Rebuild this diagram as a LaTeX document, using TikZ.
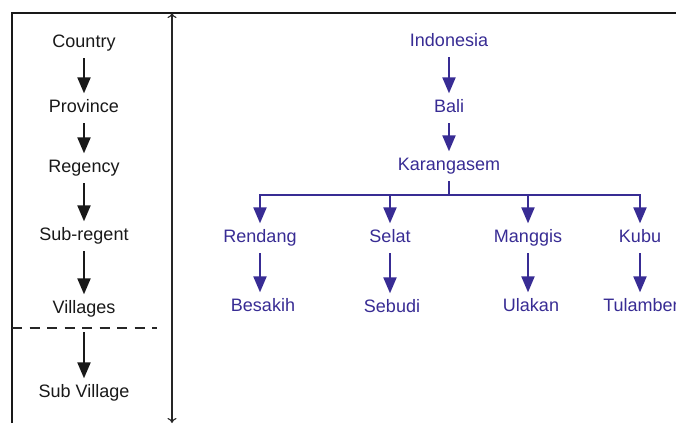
\documentclass[tikz,border=0pt]{standalone}
\usepackage{fontspec}
\setmainfont{Liberation Sans}
\usetikzlibrary{arrows.meta}
\definecolor{treeblue}{RGB}{56,44,148}
\begin{document}
\begin{tikzpicture}[x=1pt,y=-1pt,
  lbl/.style={font=\fontsize{18}{21}\selectfont, text height=12.9pt, text depth=3.8pt, inner sep=2pt},
  lvl/.style={lbl, text=black!90},
  place/.style={lbl, text=treeblue},
  flow/.style={line width=2.1pt, -{Triangle[length=16pt,width=13pt]}, shorten <=5pt, shorten >=4pt},
  lflow/.style={flow, draw=black!90},
  bflow/.style={flow, draw=treeblue},
  frame/.style={line width=1.8pt, draw=black!90},
]
\useasboundingbox (0,0) rectangle (676,423);
\clip (0,0) rectangle (676,423);
\fill[white] (0,0) rectangle (676,423);

% outer frame and the span arrow
\draw[frame] (12,423) -- (12,13) -- (676,13);
\coordinate (spantop) at (172,13);
\coordinate (spanbot) at (172,423);
\draw[line width=1.1pt, black!85, {To[length=5pt,width=9pt]}-{To[length=5pt,width=9pt]}] (spantop) -- (spanbot);

% administrative levels
\node[lvl] (country)  at (84,42.9)  {Country};
\node[lvl] (province) at (84,107.9) {Province};
\node[lvl] (regency)  at (84,167.9) {Regency};
\node[lvl] (subreg)   at (84,235.9) {Sub-regent};
\node[lvl] (villages) at (84,308.9) {Villages};
\node[lvl] (subvil)   at (84,392.9) {Sub Village};

\draw[lflow] (country) -- (province);
\draw[lflow] (province) -- (regency);
\draw[lflow] (regency) -- (subreg);
\draw[lflow] (subreg) -- (villages);
\draw[lflow, shorten <=13pt] (villages) -- (subvil);

\coordinate (dashL) at (12,328);
\coordinate (dashR) at (157,328);
\draw[line width=1.6pt, black!85, dash pattern=on 10pt off 7.5pt] (dashL) -- (dashR);

% example hierarchy
\node[place] (indonesia) at (449,41.9)  {Indonesia};
\node[place] (bali)      at (449,107.9) {Bali};
\node[place] (karang)    at (449,165.9) {Karangasem};

\node[place] (rendang) at (260,237.9) {Rendang};
\node[place] (selat)   at (390,237.9) {Selat};
\node[place] (manggis) at (528,237.9) {Manggis};
\node[place] (kubu)    at (640,237.9) {Kubu};

\node[place] (besakih)  at (263,306.9) {Besakih};
\node[place] (sebudi)   at (392,307.9) {Sebudi};
\node[place] (ulakan)   at (531,306.9) {Ulakan};
\node[place] (tulamben) at (643,306.9) {Tulamben};

\draw[bflow] (indonesia) -- (bali);
\draw[bflow] (bali) -- (karang);

\coordinate (bar) at (449,195);
\draw[line width=2.1pt, treeblue, shorten <=5pt] (karang) -- (bar);
\draw[bflow, shorten <=0pt] (bar) -| (rendang);
\draw[bflow, shorten <=0pt] (bar) -| (selat);
\draw[bflow, shorten <=0pt] (bar) -| (manggis);
\draw[bflow, shorten <=0pt] (bar) -| (kubu);

\draw[bflow] (rendang) -- (besakih.north -| rendang);
\draw[bflow] (selat) -- (sebudi.north -| selat);
\draw[bflow] (manggis) -- (ulakan.north -| manggis);
\draw[bflow] (kubu) -- (tulamben.north -| kubu);
\end{tikzpicture}
\end{document}
